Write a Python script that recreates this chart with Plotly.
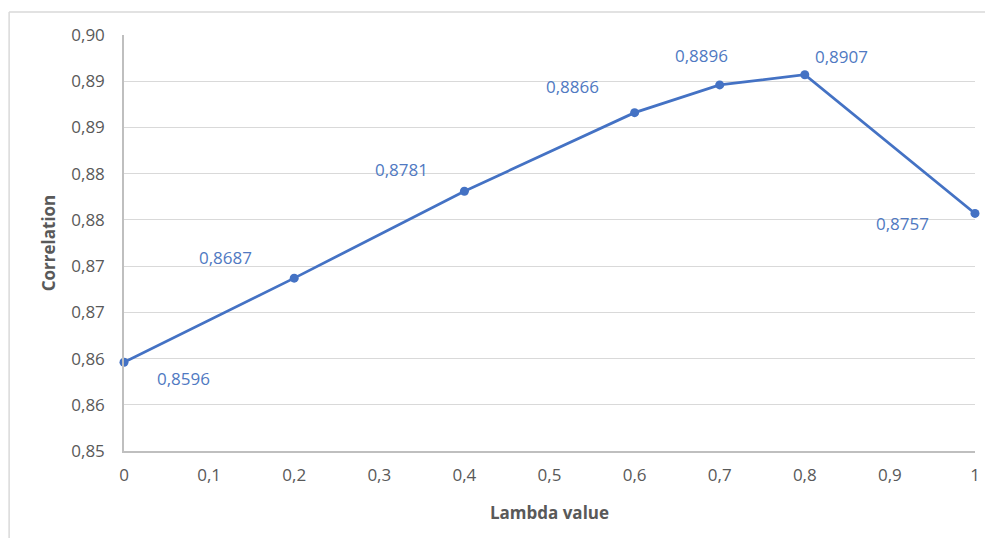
import plotly.graph_objects as go

lambda_values = [0, 0.2, 0.4, 0.6, 0.7, 0.8, 1.0]
correlation = [0.8596, 0.8687, 0.8781, 0.8866, 0.8896, 0.8907, 0.8757]
x_tick_vals = [0, 0.1, 0.2, 0.3, 0.4, 0.5, 0.6, 0.7, 0.8, 0.9, 1.0]
x_tick_text = ["0", "0,1", "0,2", "0,3", "0,4", "0,5", "0,6", "0,7", "0,8", "0,9", "1"]
y_tick_vals = [0.850, 0.855, 0.860, 0.865, 0.870, 0.875, 0.880, 0.885, 0.890, 0.895]
y_tick_text = ["0,85", "0,86", "0,86", "0,87", "0,87", "0,88", "0,88", "0,89", "0,89", "0,90"]
label_shift_x = [59, -69, -63, -62, -18, 37, -73]
label_shift_y = [-16, 21, 22, 26, 29, 18, -10]

LINE = "#4472C4"
FONT = "Open Sans"
FS = 17

fig = go.Figure()
fig.add_trace(go.Scatter(
    x=lambda_values, y=correlation, mode="lines+markers",
    line=dict(color=LINE, width=2.75),
    marker=dict(color=LINE, size=9),
    hoverinfo="skip", showlegend=False, cliponaxis=False,
))

for xv, yv, dx, dy in zip(lambda_values, correlation, label_shift_x, label_shift_y):
    fig.add_annotation(
        x=xv, y=yv, text=f"{yv:.4f}".replace(".", ","), showarrow=False,
        xshift=dx, yshift=dy, font=dict(family=FONT, size=FS, color="#5079C2"),
    )

# chart-area border (top and left edges visible)
fig.add_shape(type="line", xref="paper", yref="paper", x0=-0.135, x1=1.02, y0=1.0553, y1=1.0553,
              line=dict(color="#D9D9D9", width=1.5))
fig.add_shape(type="line", xref="paper", yref="paper", x0=-0.135, x1=-0.135, y0=-0.25, y1=1.0553,
              line=dict(color="#D9D9D9", width=1.5))

fig.update_layout(
    width=977, height=530,
    margin=dict(l=116, r=5, t=27, b=87),
    paper_bgcolor="white", plot_bgcolor="white",
    font=dict(family=FONT, size=FS, color="#595959"),
    xaxis=dict(
        range=[0, 1], tickvals=x_tick_vals, ticktext=x_tick_text,
        showgrid=False, zeroline=False, showline=True, linecolor="#BFBFBF", linewidth=1.5,
        ticks="", ticklabelstandoff=8, ticklabeloverflow="allow",
        title=dict(text="<b>Lambda value</b>", font=dict(family=FONT, size=FS, color="#595959"), standoff=22),
    ),
    yaxis=dict(
        range=[0.85, 0.895], tickvals=y_tick_vals, ticktext=y_tick_text,
        showgrid=True, gridcolor="#D9D9D9", gridwidth=1.2,
        zeroline=False, showline=True, linecolor="#BFBFBF", linewidth=1.5,
        ticks="", ticklabelstandoff=14,
        title=dict(text="<b>Correlation</b>", font=dict(family=FONT, size=FS, color="#595959"), standoff=11),
    ),
)

fig.write_html("out.html")
